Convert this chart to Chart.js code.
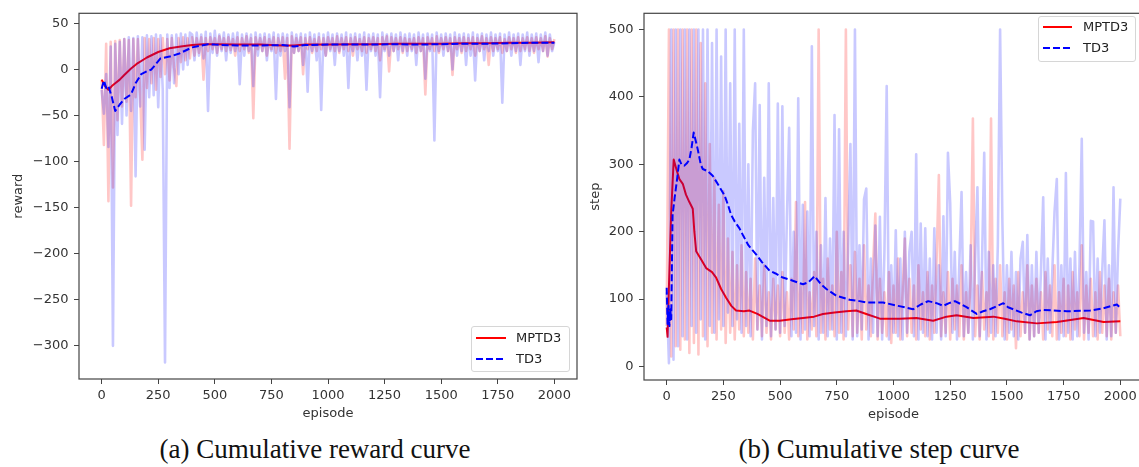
<!DOCTYPE html>
<html>
<head>
<meta charset="utf-8">
<script src="https://cdn.jsdelivr.net/npm/chart.js@4.4.1/dist/chart.umd.min.js"></script>
<style>
  body { margin: 0; width: 1139px; height: 467px; overflow: hidden; background: #fff; position: relative; }
  .wrap { position: absolute; top: 0; }
  .legend { position: absolute; background: rgba(255,255,255,0.8); border: 1px solid #d6d6d6; border-radius: 3px; box-sizing: border-box; }
  .legend svg { position: absolute; left: 0; top: 0; }
  .legend span { position: absolute; font: 13px "DejaVu Sans", sans-serif; color: #222; line-height: 16px; }
  .caption { position: absolute; top: 436px; font: 27px "Liberation Serif", "Times New Roman", serif; line-height: 27px; color: #111; white-space: nowrap; transform: translateX(-50%); }
</style>
</head>
<body>
<div class="wrap" style="left:0;width:590px;height:430px"><canvas id="rewardChart" width="590" height="430"></canvas></div>
<div class="wrap" style="left:580px;width:575px;height:430px"><canvas id="stepChart" width="575" height="430"></canvas></div>

<div class="legend" style="left:471px;top:326px;width:99px;height:46px">
  <svg width="99" height="46">
    <line x1="4" y1="11" x2="34" y2="11" stroke="#ff0000" stroke-width="2"/>
    <line x1="4" y1="32" x2="34" y2="32" stroke="#0000ff" stroke-width="2" stroke-dasharray="7,3"/>
  </svg>
  <span style="left:44px;top:3px">MPTD3</span>
  <span style="left:44px;top:24px">TD3</span>
</div>
<div class="legend" style="left:1038px;top:16px;width:98px;height:46px">
  <svg width="98" height="46">
    <line x1="4" y1="10" x2="33" y2="10" stroke="#ff0000" stroke-width="2"/>
    <line x1="4" y1="31" x2="33" y2="31" stroke="#0000ff" stroke-width="2" stroke-dasharray="7,3"/>
  </svg>
  <span style="left:44px;top:2px">MPTD3</span>
  <span style="left:44px;top:23px">TD3</span>
</div>

<div class="caption" style="left:315px">(a) Cumulative reward curve</div>
<div class="caption" style="left:879px">(b) Cumulative step curve</div>

<script>
// raw episodes are sampled every 10 episodes (0..2000)
const rawEpisodes = Array.from({ length: 201 }, (_, i) => i * 10);

const xTicks = [0, 250, 500, 750, 1000, 1250, 1500, 1750, 2000];
const rewardTicks = [-300, -250, -200, -150, -100, -50, 0, 50];
const stepTicks = [0, 100, 200, 300, 400, 500];

// raw episode reward
const rewardRawMPTD3 = [
  -12, -82, 28, -143, 30, -128, 31, -55, 32, -40,
  33, -35, 32, -148, 33, -30, 33, -25, -98, 34,
  -20, 33, -15, 34, -22, 33, -8, 34, -5, 33,
  -12, 34, 2, -18, 34, 8, 35, 10, 34, 12,
  35, 15, 34, 18, 35, -11, 34, 20, 35, 22,
  34, 18, 36, 22, 34, 20, 35, 21, 33, 15,
  35, 20, 34, 22, 36, 18, 34, -53, 35, 22,
  34, 20, 35, 15, 33, 22, 35, 18, 34, 20,
  35, -10, 34, -86, 36, 18, 34, 20, 35, -5,
  34, 22, 35, 18, 33, 20, 35, 22, 34, 15,
  35, 22, 34, 20, 36, 18, 34, 22, 35, 20,
  34, 15, 35, 22, 33, 20, 35, 18, 34, 22,
  35, 20, 34, 10, 35, 22, 36, -2, 35, 20,
  34, 22, 35, 18, 34, 20, 33, 22, 34, 18,
  35, 20, 34, -27, 35, 22, 34, 20, 36, 18,
  34, 22, 35, 20, 34, -6, 35, 22, 34, 18,
  35, 20, 34, 22, 35, 15, 34, 20, 36, 22,
  34, 5, 35, 20, 34, 22, 35, 18, 33, 20,
  35, 22, 34, 18, 35, 20, 34, 22, 35, 20,
  34, 18, 35, 22, 34, 20, 36, 14, 34, 22,
  33
];
const rewardRawTD3 = [
  -22, -48, -5, -84, 25, -300, 28, -71, 30, -59,
  33, -50, 35, -45, 34, -116, 36, -40, 35, -87,
  37, -30, 36, -28, 38, -41, 37, -22, -318, 38,
  -20, 37, -15, 38, -5, 39, 0, 38, 5, 40,
  38, 10, 40, 15, 38, 12, 41, -45, 39, 18,
  42, 15, 38, 20, 40, 10, 38, 18, 39, 20,
  40, -16, 38, 15, 39, 20, 38, -18, 40, 15,
  38, 20, 39, 10, 38, 20, 40, -32, 38, 15,
  39, 20, 38, -41, 40, 18, 38, 20, 39, 5,
  38, -24, 40, 20, 38, 10, 39, -44, 38, 15,
  40, 20, 38, 5, 39, 20, 38, 15, 40, -20,
  38, 20, 39, 10, 38, 15, 40, -22, 38, 20,
  39, 15, 38, -30, 40, 20, 38, 15, 39, 20,
  38, 10, 40, 20, 38, 15, 39, 20, 38, 5,
  40, 20, 38, -10, 39, 20, 38, -77, 40, 20,
  38, 15, 39, 20, 38, 0, 40, 15, 38, 20,
  39, 5, 38, 15, 40, -12, 38, 20, 39, 10,
  38, 20, 40, 15, 38, 20, 39, -36, 38, 20,
  40, 15, 38, 20, 39, 5, 38, 20, 40, 15,
  38, 20, 39, 8, 38, 20, 40, 15, 38, 20,
  30
];

// smoothed episode reward
const rewardSmoothEpMPTD3 = [0, 15, 30, 45, 60, 80, 100, 130, 160, 200, 250, 300, 350, 400, 450, 500, 600, 700, 800, 850, 900, 1000, 1100, 1200, 1300, 1400, 1500, 1600, 1700, 1800, 1900, 2000];
const rewardSmoothMPTD3 = [-11, -18, -22, -18, -15, -11, -6, 1, 7, 13, 19, 23, 25, 26.5, 27.5, 27.5, 27, 27, 26, 26, 27, 27, 27.5, 27.5, 28, 28, 28, 28.5, 28.5, 29, 29, 29.5];
const rewardSmoothEpTD3 = [0, 10, 20, 30, 45, 60, 80, 100, 130, 150, 175, 200, 220, 260, 300, 340, 400, 470, 500, 600, 700, 800, 850, 900, 1000, 1100, 1200, 1300, 1400, 1500, 1600, 1700, 1800, 1900, 2000];
const rewardSmoothTD3 = [-21, -12, -20, -18, -30, -45, -38, -32, -27, -15, -5, -2, 0, 12, 14, 17, 24, 27.5, 27, 26, 26, 26.5, 25, 26.5, 27, 27, 27, 27.5, 27, 27.5, 28, 28, 28.5, 29, 29];

// raw episode steps
const stepRawMPTD3 = [
  60, 500, 15, 500, 30, 500, 25, 500, 40, 500,
  20, 500, 35, 500, 18, 480, 45, 420, 30, 330,
  50, 280, 40, 240, 55, 260, 35, 190, 50, 170,
  40, 150, 55, 180, 45, 140, 50, 130, 40, 160,
  55, 120, 45, 150, 50, 110, 40, 130, 55, 120,
  45, 140, 50, 110, 40, 130, 55, 244, 45, 120,
  50, 244, 40, 110, 55, 140, 45, 500, 50, 130,
  40, 160, 55, 120, 45, 200, 50, 140, 40, 500,
  55, 150, 45, 170, 50, 130, 40, 180, 55, 120,
  45, 150, 227, 40, 130, 50, 110, 45, 140, 35,
  120, 50, 160, 40, 110, 190, 45, 130, 50, 120,
  40, 150, 55, 110, 45, 140, 40, 120, 50, 160,
  284, 45, 110, 50, 140, 40, 130, 55, 120, 45,
  150, 40, 110, 50, 130, 368, 45, 120, 40, 140,
  55, 110, 45, 368, 40, 130, 50, 150, 45, 110,
  40, 130, 55, 120, 27, 140, 45, 110, 50, 150,
  40, 120, 45, 130, 50, 110, 40, 140, 55, 120,
  45, 150, 40, 110, 50, 130, 45, 120, 40, 140,
  55, 110, 45, 180, 40, 120, 50, 130, 45, 110,
  40, 140, 50, 120, 45, 130, 40, 110, 50, 120,
  45
];
const stepRawTD3 = [
  110, 5, 500, 10, 500, 30, 500, 45, 500, 40,
  500, 60, 500, 50, 500, 70, 500, 40, 500, 60,
  480, 50, 500, 70, 460, 60, 500, 80, 420, 60,
  500, 70, 360, 50, 500, 60, 300, 45, 350, 420,
  55, 388, 40, 280, 60, 420, 45, 250, 55, 390,
  50, 386, 60, 220, 354, 45, 200, 50, 398, 40,
  240, 55, 230, 45, 475, 60, 200, 40, 180, 50,
  250, 45, 190, 55, 373, 40, 352, 50, 200, 45,
  170, 330, 40, 500, 45, 180, 55, 248, 264, 40,
  160, 50, 209, 45, 222, 40, 170, 416, 40, 150,
  50, 202, 45, 160, 40, 200, 50, 170, 200, 45,
  315, 40, 212, 50, 205, 45, 160, 40, 205, 50,
  150, 40, 223, 45, 317, 242, 50, 170, 40, 150,
  259, 45, 140, 50, 180, 40, 160, 266, 45, 150,
  317, 40, 170, 50, 150, 45, 180, 500, 216, 40,
  150, 50, 170, 45, 140, 40, 160, 185, 50, 195,
  40, 150, 45, 170, 50, 140, 251, 40, 160, 50,
  140, 230, 278, 40, 150, 45, 287, 50, 160, 40,
  170, 45, 150, 338, 50, 140, 40, 216, 215, 45,
  160, 50, 140, 217, 40, 150, 45, 266, 50, 170,
  249
];

// smoothed episode steps
const stepSmoothEpMPTD3 = [0, 4, 10, 20, 31, 45, 56, 71, 85, 100, 115, 122, 130, 150, 174, 200, 218, 240, 262, 285, 306, 340, 365, 400, 454, 498, 550, 601, 650, 689, 740, 792, 836, 880, 940, 1028, 1101, 1175, 1234, 1278, 1352, 1440, 1490, 1543, 1632, 1720, 1780, 1838, 1926, 2000];
const stepSmoothMPTD3 = [58, 44, 120, 230, 307, 290, 278, 271, 255, 244, 234, 200, 171, 160, 146, 140, 132, 115, 102, 90, 83, 82, 83, 78, 68, 68, 70, 72, 74, 78, 80, 82, 83, 78, 71, 71, 72, 68, 74, 76, 72, 74, 71, 67, 64, 66, 69, 72, 66, 67];
const stepSmoothEpTD3 = [0, 4, 8, 12, 16, 20, 26, 35, 44, 56, 65, 78, 90, 100, 110, 119, 128, 137, 150, 159, 180, 203, 230, 255, 270, 284, 300, 321, 336, 360, 395, 420, 454, 480, 512, 550, 601, 625, 652, 680, 704, 748, 807, 850, 880, 954, 1020, 1087, 1120, 1153, 1190, 1219, 1245, 1271, 1300, 1322, 1367, 1395, 1425, 1484, 1505, 1528, 1565, 1602, 1630, 1661, 1764, 1867, 1920, 1985, 2000];
const stepSmoothTD3 = [117, 63, 90, 60, 85, 70, 225, 250, 273, 307, 300, 298, 302, 307, 325, 347, 335, 322, 300, 293, 290, 283, 268, 254, 240, 225, 215, 205, 195, 180, 166, 155, 142, 138, 132, 128, 122, 125, 134, 122, 115, 105, 99, 97, 95, 95, 90, 85, 92, 97, 94, 90, 94, 97, 92, 88, 78, 82, 85, 94, 88, 85, 80, 76, 82, 84, 82, 83, 86, 92, 87];

const FONT = "DejaVu Sans";

function pts(xs, ys) {
  return xs.map((x, i) => ({ x: x, y: ys[i] }));
}

// draws the full axes box like matplotlib spines
const framePlugin = {
  id: "frame",
  afterDatasetsDraw(chart) {
    const a = chart.chartArea;
    const ctx = chart.ctx;
    ctx.save();
    ctx.strokeStyle = "#444";
    ctx.lineWidth = 1.2;
    ctx.strokeRect(a.left, a.top, a.right - a.left, a.bottom - a.top);
    ctx.restore();
  },
};

function makeChart(id, cfg) {
  const ctx = document.getElementById(id);
  return new Chart(ctx, {
    type: "line",
    data: {
      datasets: [
        { data: pts(cfg.tdEp, cfg.tdSmooth), borderColor: "#0000ff", borderWidth: 2, borderDash: [7, 3], order: 0 },
        { data: pts(rawEpisodes, cfg.tdRaw), borderColor: "rgba(0,0,255,0.21)", borderWidth: 2.6, order: 1 },
        { data: pts(cfg.mpEp, cfg.mpSmooth), borderColor: "#ff0000", borderWidth: 2, order: 2 },
        { data: pts(rawEpisodes, cfg.mpRaw), borderColor: "rgba(255,0,0,0.22)", borderWidth: 2.6, order: 3 },
      ],
    },
    options: {
      responsive: false,
      animation: false,
      devicePixelRatio: 1,
      layout: { padding: cfg.padding },
      elements: { point: { radius: 0 }, line: { tension: 0, fill: false, borderJoinStyle: "round" } },
      plugins: { legend: { display: false }, tooltip: { enabled: false } },
      scales: {
        x: {
          type: "linear",
          min: -100,
          max: 2100,
          afterBuildTicks: (s) => { s.ticks = xTicks.map((v) => ({ value: v })); },
          afterFit: (s) => { s.height = cfg.xHeight; },
          border: { display: false },
          grid: { drawOnChartArea: false, drawTicks: true, tickLength: 5, color: "#444" },
          ticks: {
            padding: 4,
            color: "#333",
            font: { family: FONT, size: 13 },
            maxRotation: 0,
            autoSkip: false,
            callback: (v) => String(v),
          },
          title: { display: true, text: "episode", color: "#333", font: { family: FONT, size: 13 }, padding: 0 },
        },
        y: {
          type: "linear",
          min: cfg.yMin,
          max: cfg.yMax,
          afterBuildTicks: (s) => { s.ticks = cfg.yTicks.map((v) => ({ value: v })); },
          afterFit: (s) => { s.width = cfg.yWidth; },
          border: { display: false },
          grid: { drawOnChartArea: false, drawTicks: true, tickLength: 5, color: "#444" },
          ticks: {
            padding: 5.5,
            color: "#333",
            font: { family: FONT, size: 13 },
            autoSkip: false,
            callback: (v) => String(v).replace("-", "\u2212"),
          },
          title: { display: true, text: cfg.yTitle, color: "#333", font: { family: FONT, size: 13 }, padding: { top: cfg.yTitlePad, bottom: 0 } },
        },
      },
    },
    plugins: [framePlugin],
  });
}

makeChart("rewardChart", {
  mpRaw: rewardRawMPTD3, tdRaw: rewardRawTD3,
  mpEp: rewardSmoothEpMPTD3, mpSmooth: rewardSmoothMPTD3,
  tdEp: rewardSmoothEpTD3, tdSmooth: rewardSmoothTD3,
  yMin: -336, yMax: 61, yTicks: rewardTicks, yTitle: "reward",
  padding: { left: 0, top: 9, right: 13, bottom: 8.5 },
  xHeight: 42.5, yWidth: 79, yTitlePad: 11,
});

makeChart("stepChart", {
  mpRaw: stepRawMPTD3, tdRaw: stepRawTD3,
  mpEp: stepSmoothEpMPTD3, mpSmooth: stepSmoothMPTD3,
  tdEp: stepSmoothEpTD3, tdSmooth: stepSmoothTD3,
  yMin: -20, yMax: 524, yTicks: stepTicks, yTitle: "step",
  padding: { left: 0, top: 9, right: 12, bottom: 8 },
  xHeight: 42, yWidth: 64, yTitlePad: 8,
});
</script>
</body>
</html>
